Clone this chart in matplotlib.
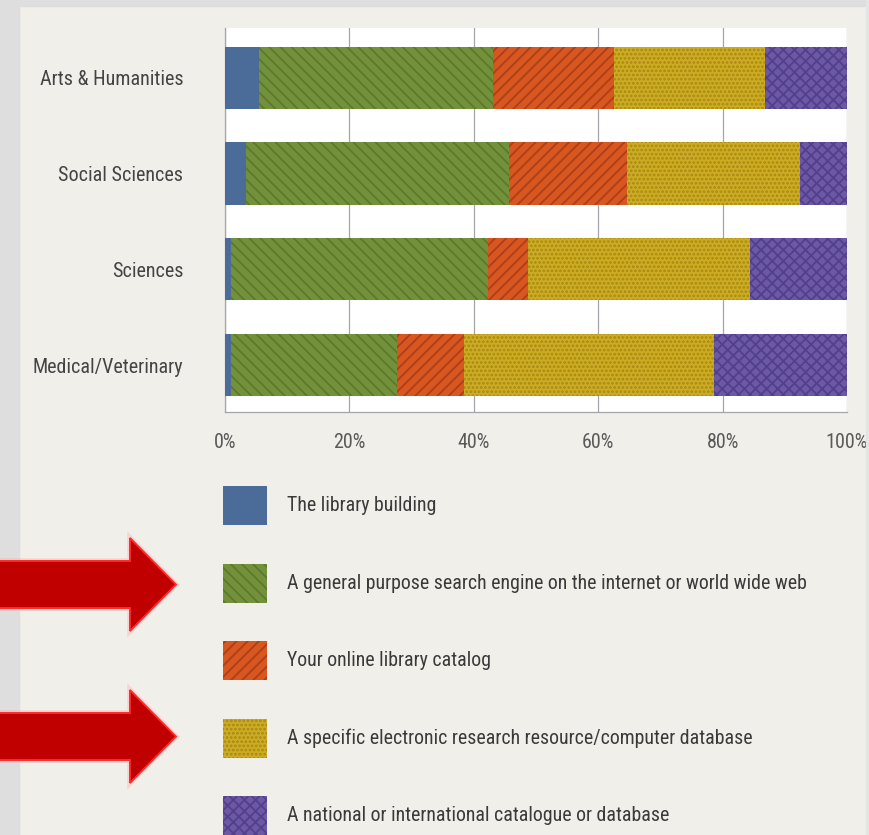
import matplotlib
matplotlib.use("Agg")
import matplotlib.pyplot as plt
from matplotlib import font_manager as fm
from matplotlib.patches import FancyArrow, Rectangle
import matplotlib.patheffects as pe
import numpy as np

# ---------------- data ----------------
categories = ["Arts & Humanities", "Social Sciences", "Sciences", "Medical/Veterinary"]
series_names = [
    "The library building",
    "A general purpose search engine on the internet or world wide web",
    "Your online library catalog",
    "A specific electronic research resource/computer database",
    "A national or international catalogue or database",
]
library_building = [5.5, 3.4, 1.0, 1.0]
search_engine = [37.6, 42.3, 41.3, 26.6]
online_catalog = [19.4, 18.9, 6.4, 10.8]
electronic_resource = [24.3, 27.8, 35.7, 40.2]
national_catalogue = [13.2, 7.6, 15.6, 21.4]
xtick_values = [0, 20, 40, 60, 80, 100]
xtick_labels = ["0%", "20%", "40%", "60%", "80%", "100%"]

# ---------------- styles ----------------
face_colors = ["#4b6c98", "#73903a", "#d8561f", "#cdac22", "#6c58a5"]
hatch_colors = ["#4b6c98", "#5d7a2c", "#ad3f18", "#a68916", "#52408c"]
hatches = [None, "\\\\\\", "///", "....", "xxx"]


def pick(fams):
    for f in fams:
        try:
            fm.findfont(fm.FontProperties(family=f), fallback_to_default=False)
            return f
        except Exception:
            pass
    return "DejaVu Sans"


FONT = pick(["Roboto Condensed", "Liberation Sans Narrow", "Open Sans Condensed", "Liberation Sans"])
plt.rcParams["font.family"] = [FONT, "DejaVu Sans"]
plt.rcParams["hatch.linewidth"] = 1.3

W, H = 870, 835
fig = plt.figure(figsize=(W / 100, H / 100), dpi=100, facecolor="#f0efea")

# outer grey margins of the slide
fig.patches.append(Rectangle((0, 0), 19 / W, 1, transform=fig.transFigure, color="#dedede", zorder=0))
fig.patches.append(Rectangle((0, 1 - 6 / H), 1, 6 / H, transform=fig.transFigure, color="#dedede", zorder=0))
fig.patches.append(Rectangle((866 / W, 0), 4 / W, 1, transform=fig.transFigure, color="#e4e4e4", zorder=0))

ax = fig.add_axes([225 / W, 1 - 412 / H, 622 / W, 384 / H])
ax.set_facecolor("white")

series = [library_building, search_engine, online_catalog, electronic_resource, national_catalogue]
y = np.arange(len(categories))
left = np.zeros(len(categories))
for vals, name, fc, hc, hatch in zip(series, series_names, face_colors, hatch_colors, hatches):
    vals = np.array(vals)
    ax.barh(y, vals, left=left, height=0.65, color=fc, edgecolor=hc, hatch=hatch,
            linewidth=0, label=name, zorder=3)
    left += vals

ax.set_xlim(0, 100)
ax.set_ylim(3.49, -0.52)
ax.set_xticks(xtick_values)
ax.set_xticklabels(xtick_labels, fontsize=14.5, color="#5a5a5a")
ax.set_yticks(y)
ax.set_yticklabels(categories, fontsize=14.5, color="#444444")
ax.tick_params(axis="x", length=0, pad=15)
ax.tick_params(axis="y", length=0, pad=30)
ax.grid(axis="x", color="#a4a4ac", linewidth=0.9, zorder=1)
for s in ["top", "right"]:
    ax.spines[s].set_visible(False)
for s in ["left", "bottom"]:
    ax.spines[s].set_color("#a4a4ac")
    ax.spines[s].set_linewidth(0.9)

# legend
fs = 14.3
fs_px = fs * 100 / 72
rect_h = 39 / fs_px
hh = (rect_h - 0.245) / 0.65
handles, labels = ax.get_legend_handles_labels()
leg = fig.legend(handles, labels, loc="upper left", bbox_to_anchor=(223 / W, 1 - 486 / H),
                 frameon=False, borderpad=0, borderaxespad=0,
                 handlelength=44 / fs_px, handleheight=hh,
                 handletextpad=20 / fs_px, labelspacing=(77.5 - 39) / fs_px,
                 prop={"family": [FONT, "DejaVu Sans"], "size": fs})
for t in leg.get_texts():
    t.set_color("#3a3a3a")

# red arrows
for tip_y in [584.5, 736.5]:
    arr = FancyArrow(-0.1, (H - tip_y) / 100, 1.86, 0, width=0.47, head_width=0.93,
                     head_length=0.46, length_includes_head=True,
                     transform=fig.dpi_scale_trans, facecolor="#c00000",
                     edgecolor="#ff2a2a", linewidth=1.4, zorder=5)
    arr.set_path_effects([pe.Stroke(linewidth=4, foreground=(1, 0.65, 0.65, 0.35)), pe.Normal()])
    fig.add_artist(arr)

fig.savefig("out.png", dpi=100, facecolor=fig.get_facecolor())
